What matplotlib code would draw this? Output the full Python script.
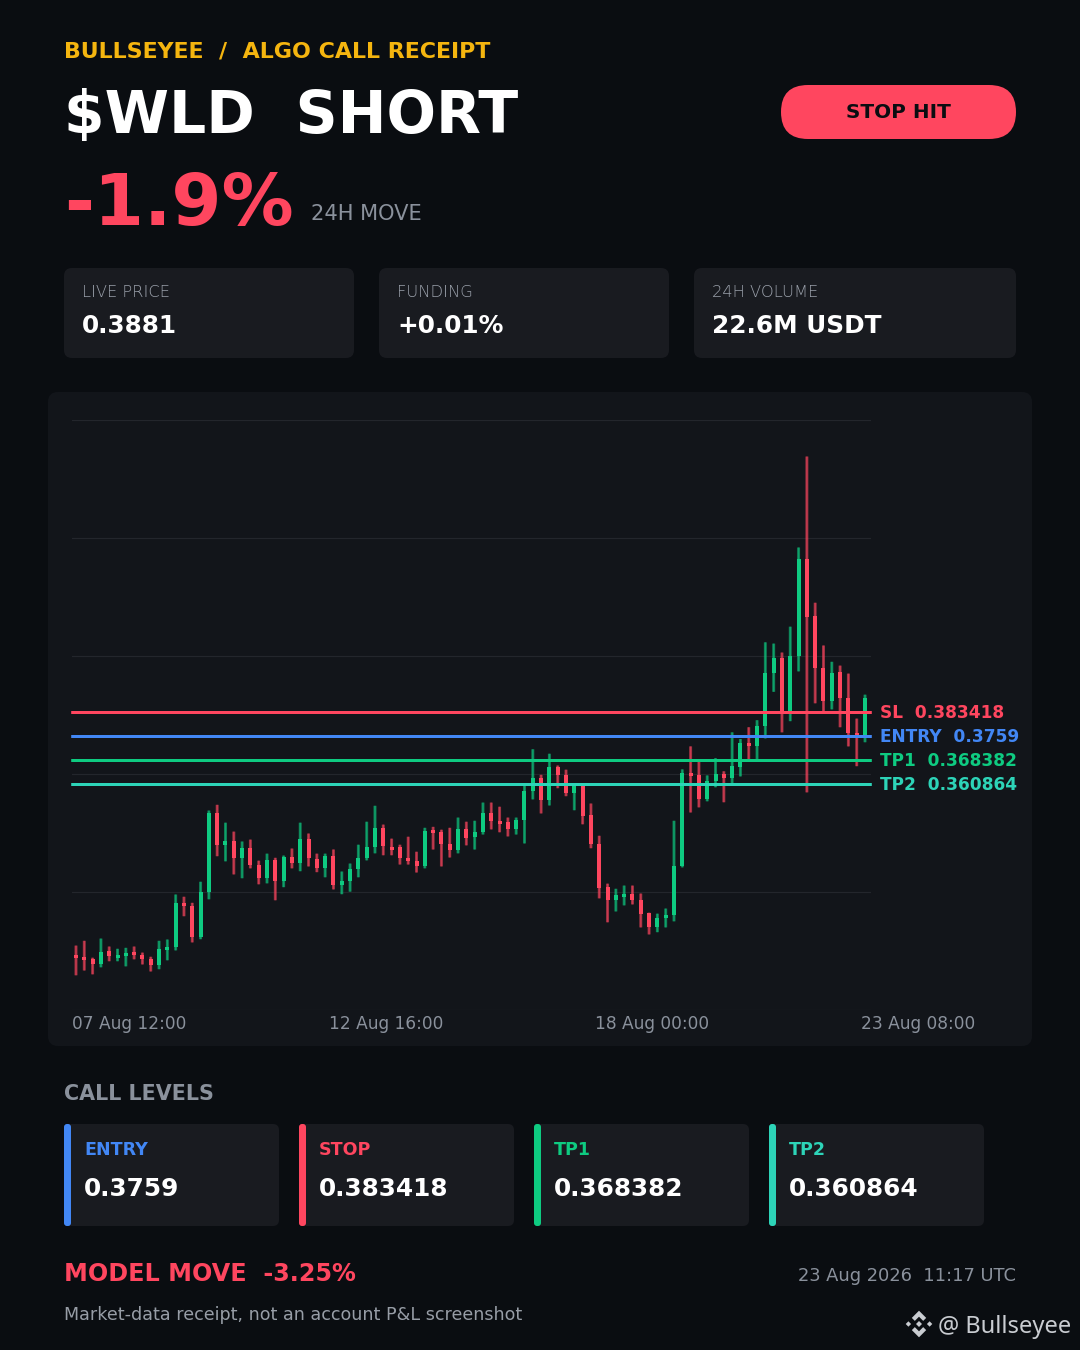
import numpy as np
import matplotlib
matplotlib.use("Agg")
import matplotlib.pyplot as plt
from matplotlib.patches import FancyBboxPatch, Polygon
from matplotlib.transforms import ScaledTranslation

# ---------- data (prices x 1e-4) ----------
OPEN = [3075,3068,3062,3046,3087,3065,3071,3084,3075,3062,3043,3090,3100,3237,3228,3131,3272,3519,3419,3432,
        3378,3410,3356,3316,3372,3306,3382,3363,3438,3375,3347,3385,3294,3306,3344,3378,3413,3472,3413,3413,
        3378,3369,3353,3466,3460,3422,3403,3469,3444,3460,3519,3494,3491,3469,3497,3588,3629,3560,3663,3638,
        3582,3606,3513,3422,3288,3247,3256,3266,3247,3206,3162,3190,3200,3353,3645,3638,3563,3620,3642,3629,
        3664,3739,3729,3792,3958,4005,3836,4011,4315,4137,3974,3870,3961,3880,3770,3761]
HIGH = [3104,3119,3066,3126,3101,3094,3097,3101,3082,3069,3119,3123,3264,3257,3238,3304,3527,3545,3489,3461,
        3430,3436,3370,3392,3379,3386,3408,3489,3455,3392,3392,3405,3336,3361,3420,3492,3542,3483,3439,3420,
        3445,3398,3473,3476,3467,3473,3505,3492,3495,3552,3552,3539,3505,3505,3605,3719,3639,3705,3668,3655,
        3608,3608,3549,3448,3298,3282,3292,3292,3267,3207,3204,3220,3495,3656,3728,3680,3637,3691,3650,3772,
        3751,3788,3810,4054,4050,4022,4103,4351,4636,4178,4044,3993,3981,3956,3815,3890]
LOW  = [3011,3026,3014,3036,3055,3055,3039,3061,3045,3023,3030,3058,3089,3196,3114,3124,3249,3384,3368,3327,
        3315,3346,3296,3299,3246,3287,3346,3337,3352,3334,3318,3280,3265,3273,3318,3371,3393,3387,3387,3358,
        3358,3333,3346,3405,3352,3380,3393,3418,3405,3452,3468,3459,3446,3452,3424,3562,3518,3543,3597,3572,
        3528,3484,3409,3252,3177,3211,3230,3233,3161,3139,3146,3161,3180,3349,3521,3537,3556,3600,3553,3612,
        3634,3685,3685,3753,3899,3772,3807,3963,3584,3863,3836,3844,3788,3728,3666,3741]
CLOSE= [3065,3059,3046,3084,3071,3075,3081,3075,3062,3043,3093,3100,3237,3228,3131,3272,3519,3419,3432,3378,
        3410,3356,3316,3372,3306,3382,3363,3438,3378,3347,3385,3294,3306,3344,3378,3413,3472,3416,3403,3378,
        3369,3353,3463,3457,3422,3403,3469,3441,3460,3519,3494,3485,3469,3497,3588,3629,3560,3663,3638,3582,
        3606,3510,3422,3284,3247,3263,3266,3247,3203,3162,3190,3200,3353,3645,3635,3563,3620,3642,3629,3667,
        3739,3729,3792,3958,4005,3836,4011,4315,4133,3974,3870,3958,3880,3770,3761,3880]
TICK_IDX = [0, 31, 63, 95]
TICK_LABELS = ["07 Aug 12:00", "12 Aug 16:00", "18 Aug 00:00", "23 Aug 08:00"]
LEVEL_NAMES = ["SL", "ENTRY", "TP1", "TP2"]
LEVEL_VALUES = [0.383418, 0.3759, 0.368382, 0.360864]
LEVEL_TEXT = ["0.383418", "0.3759", "0.368382", "0.360864"]
STATS = [("LIVE PRICE", "0.3881"), ("FUNDING", "+0.01%"), ("24H VOLUME", "22.6M USDT")]
CARD_NAMES = ["ENTRY", "STOP", "TP1", "TP2"]
CARD_VALUES = ["0.3759", "0.383418", "0.368382", "0.360864"]

BG="#0A0D11"; PANEL="#191B20"; CHART="#12151A"; GRID="#23262C"
AMBER="#F5B50F"; RED="#FF465F"; GREEN="#0ECB81"; BLUE="#4287F5"; TEAL="#2DD4B8"; GREY="#8A919C"
LVL_COL=[RED,BLUE,GREEN,TEAL]
CARD_COL=[BLUE,RED,GREEN,TEAL]

plt.rcParams['font.family']=['DejaVu Sans']
fig=plt.figure(figsize=(10.8,13.5),dpi=100,facecolor=BG)
ov=fig.add_axes([0,0,1,1]); ov.set_xlim(0,1080); ov.set_ylim(1350,0); ov.axis('off')

def px(p): return p*0.72
def T(x,y,s,size,color,weight='normal',ha='left',**kw):
    return ov.text(x,y,s,fontsize=px(size),color=color,fontweight=weight,ha=ha,va='baseline',**kw)
def box(x0,y0,x1,y1,r,color,z=1):
    p=FancyBboxPatch((x0+r,y0+r),x1-x0-2*r,y1-y0-2*r,boxstyle=f"round,pad={r},rounding_size={r}",
                     fc=color,ec='none',zorder=z)
    ov.add_patch(p)

T(64,57.5,"BULLSEYEE  /  ALGO CALL RECEIPT",22.1,AMBER,'bold')
T(64,133,"$WLD  SHORT",58.4,"#FFFFFF",'bold')
T(64,225,"-1.9%",72,RED,'bold')
T(311,220,"24H MOVE",21,GREY)
box(781,85,1016,139,27,RED)
T(898.5,118.5,"STOP HIT",20,"#0A0D11",'bold',ha='center')

for (x0,x1),(lab,val) in zip([(64,354),(379,669),(694,1016)],STATS):
    box(x0,268,x1,358,8,PANEL)
    T(x0+18,297,lab,16.3,"#9AA0AA",weight=200)
    T(x0+18,333,val,24.7,"#FFFFFF",'bold')

box(48,392,1032,1046,10,CHART)

# chart axes
k=0.015036/48
ytop=0.3759+(736.5-420)*k; ybot=0.3759+(736.5-1010)*k
ax=fig.add_axes([72/1080,1-1010/1350,799/1080,590/1350])
ax.patch.set_alpha(0)
for s in ax.spines.values(): s.set_visible(False)
ax.set_xlim(-0.48,95.72); ax.set_ylim(ybot,ytop)
ax.set_yticks(np.linspace(ybot,ytop,6)); ax.set_yticklabels([])
ax.grid(axis='y',color=GRID,lw=px(1.2)); ax.set_axisbelow(True)
ax.tick_params(axis='both',length=0)
ax.set_xticks(TICK_IDX); ax.set_xticklabels(TICK_LABELS,fontsize=px(17),color=GREY)
for lb in ax.get_xticklabels():
    lb.set_horizontalalignment('left')
    lb.set_transform(lb.get_transform()+ScaledTranslation(-4/100,0,fig.dpi_scale_trans))

o=np.array(OPEN)/1e4;h=np.array(HIGH)/1e4;l=np.array(LOW)/1e4;c=np.array(CLOSE)/1e4
idx=np.arange(len(o))
cols=[GREEN if a>=b else RED for a,b in zip(c,o)]
ax.vlines(idx,l,h,colors=cols,lw=px(3),alpha=0.55,zorder=2,snap=False)
ax.vlines(idx,l,h,colors=cols,lw=px(1.4),alpha=0.5,zorder=2,snap=False)
ax.bar(idx,np.abs(c-o),bottom=np.minimum(o,c),width=4/8.305,color=cols,zorder=3,linewidth=0)
for name,v,txt,col in zip(LEVEL_NAMES,LEVEL_VALUES,LEVEL_TEXT,LVL_COL):
    ax.plot([-0.001,1.001],[v,v],transform=ax.get_yaxis_transform(),color=col,lw=px(3),zorder=4,clip_on=False,
            solid_capstyle='butt',snap=False)
    tr=ax.get_yaxis_transform()+ScaledTranslation(0,1.5/100,fig.dpi_scale_trans)
    ax.text(1.0113,v,f"{name}  {txt}",transform=tr,color=col,fontweight='bold',
            fontsize=px(17.05),va='center_baseline',ha='left',clip_on=False)

T(64,1100,"CALL LEVELS",20.6,GREY,'bold')
for x0,name,val,col in zip([64,299,534,769],CARD_NAMES,CARD_VALUES,CARD_COL):
    box(x0,1124,x0+215,1226,6,PANEL)
    box(x0,1124,x0+7,1226,3,col,z=2)
    T(x0+20,1155,name,17.5,col,'bold')
    T(x0+20,1196,val,24.8,"#FFFFFF",'bold')

T(64,1281,"MODEL MOVE  -3.25%",23.9,RED,'bold')
T(1016,1281,"23 Aug 2026  11:17 UTC",17.9,GREY,ha='right')
T(64,1320.5,"Market-data receipt, not an account P&L screenshot",17.5,"#979DA6")

# watermark
WM="#C9CCD1"
cx,cy=919,1324
for pts in [[(-13.3,0),(-10.6,-2.7),(-7.9,0),(-10.6,2.7)],[(13.3,0),(10.6,-2.7),(7.9,0),(10.6,2.7)],
            [(-3,0),(0,-3),(3,0),(0,3)],
            [(0,-13.3),(7.2,-6.1),(4.2,-3.1),(0,-7.3),(-4.2,-3.1),(-7.2,-6.1)],
            [(0,13.3),(7.2,6.1),(4.2,3.1),(0,7.3),(-4.2,3.1),(-7.2,6.1)]]:
    ov.add_patch(Polygon([(cx+a,cy+b) for a,b in pts],closed=True,fc=WM,ec='none',zorder=5))
ov.text(938,1333,"@ Bullseyee",fontsize=px(23.7),color=WM,family='Noto Sans',ha='left',va='baseline')

fig.savefig("out.png",dpi=100,facecolor=BG)
